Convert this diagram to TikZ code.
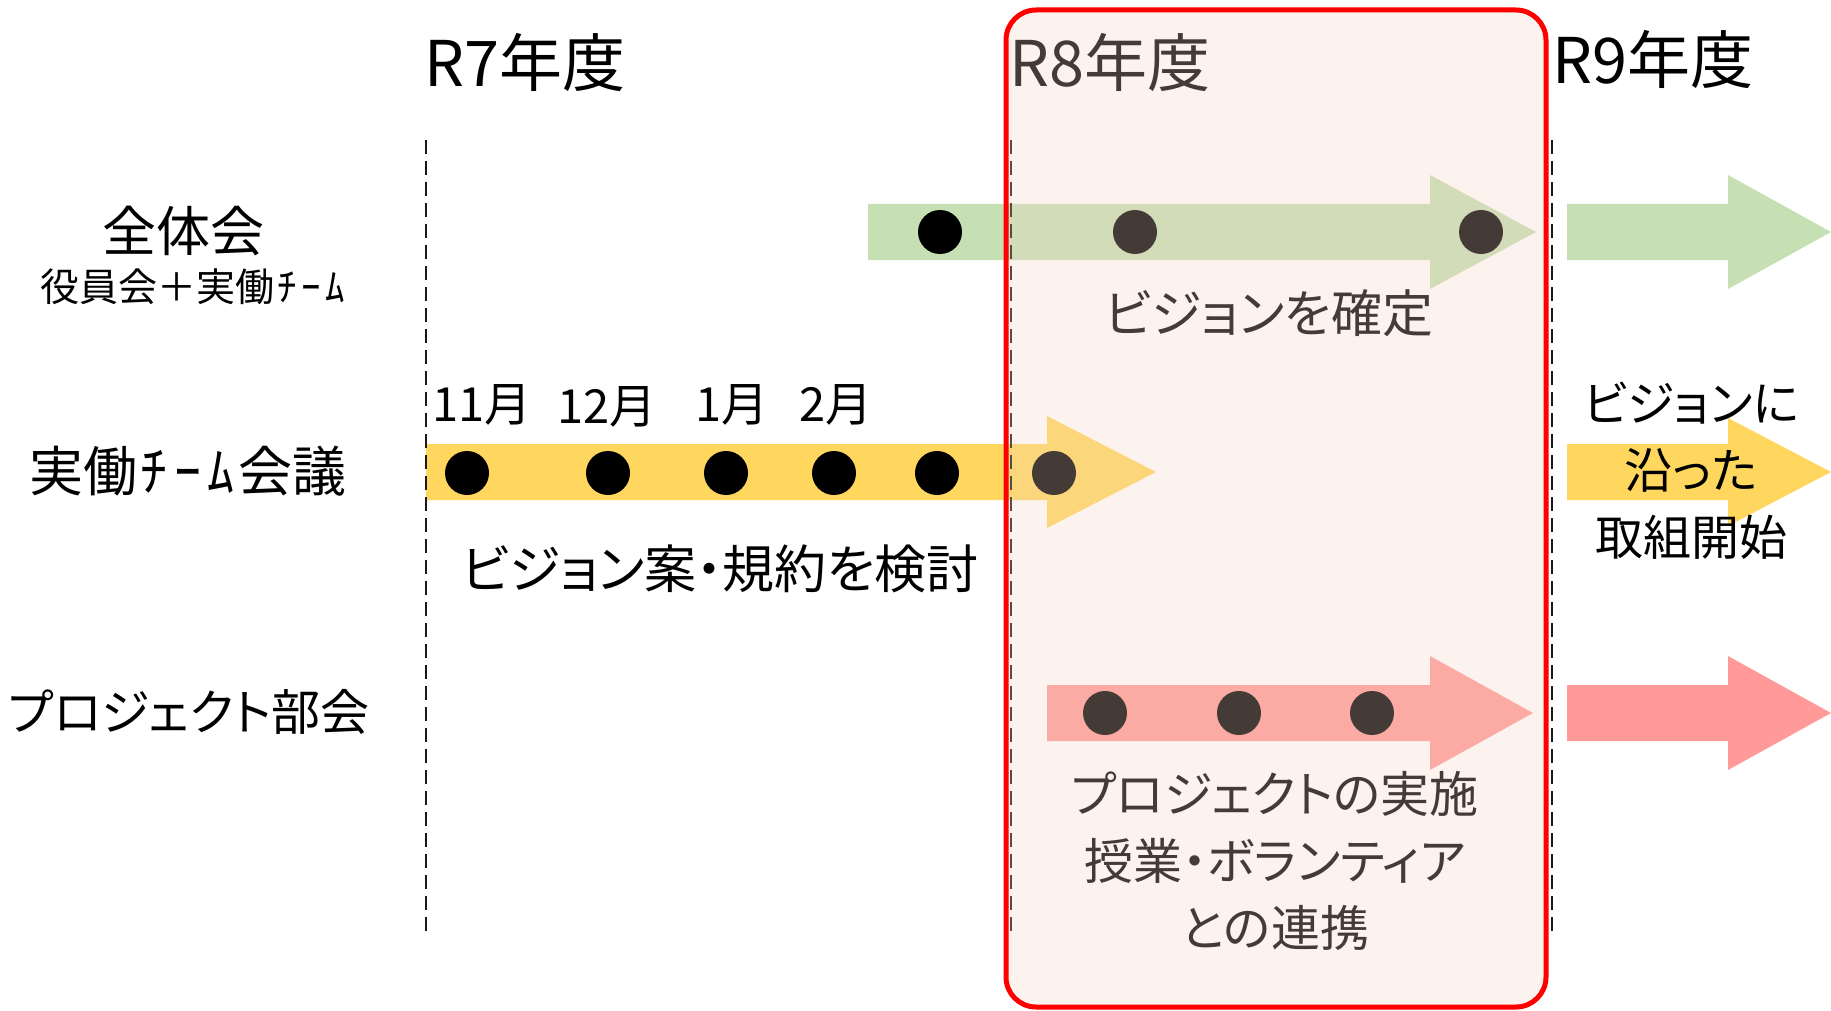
\documentclass[tikz,border=0pt]{standalone}
\usepackage{fontspec}
\setmainfont{Noto Sans CJK JP}[RawFeature=+palt]
\definecolor{grn}{HTML}{C6E0B4}
\definecolor{ylw}{HTML}{FFD75E}
\definecolor{pnk}{HTML}{FF9A98}
\definecolor{boxfill}{RGB}{245,212,198}
\newcommand\fatarrow[7]{\fill[#1] (#2,#5-#6) -- (#3,#5-#6) -- (#3,#5-#7) -- (#4,#5) -- (#3,#5+#7) -- (#3,#5+#6) -- (#2,#5+#6) -- cycle;}
\newcommand\hk[1]{\makebox[0.62em]{#1}}
\tikzset{
  txt/.style={inner sep=0pt, text=black},
  yrlbl/.style={txt, anchor=west, font=\fontsize{63}{70}\selectfont},
  rowlbl/.style={txt, font=\fontsize{54}{64}\selectfont},
  sublbl/.style={txt, font=\fontsize{39}{44}\selectfont},
  monlbl/.style={txt, font=\fontsize{47}{54}\selectfont},
  note/.style={txt, align=center, font=\fontsize{51}{67}\selectfont},
  dot/.style={circle, fill=black, minimum size=44pt, inner sep=0pt},
  yrline/.style={dash pattern=on 14pt off 7pt, line width=1.6pt, black!90},
}
\begin{document}
\begin{tikzpicture}[x=1pt,y=-1pt]
\useasboundingbox (0,0) rectangle (1831,1011);
\fill[white] (0,0) rectangle (1831,1011);
% arrows
\fatarrow{grn}{868}{1430}{1536}{232}{28}{57}
\fatarrow{grn}{1567}{1728}{1831}{232}{28}{57}
\fatarrow{ylw}{426}{1047}{1156}{472}{28}{56}
\fatarrow{ylw}{1567}{1728}{1831}{472}{28}{54}
\fatarrow{pnk}{1047}{1430}{1533}{713}{28}{57}
\fatarrow{pnk}{1567}{1728}{1831}{713}{28}{57}
% dots
\node[dot] (g1) at (940,232) {};
\node[dot] (g2) at (1135,232) {};
\node[dot] (g3) at (1481,232) {};
\node[dot] (y1) at (467,473) {};
\node[dot] (y2) at (608,473) {};
\node[dot] (y3) at (726,473) {};
\node[dot] (y4) at (834,473) {};
\node[dot] (y5) at (937,473) {};
\node[dot] (y6) at (1054,473) {};
\node[dot] (p1) at (1105,713) {};
\node[dot] (p2) at (1239,713) {};
\node[dot] (p3) at (1372,713) {};
% year lines
\coordinate (l7t) at (426,140); \coordinate (l7b) at (426,934);
\coordinate (l8t) at (1011,140); \coordinate (l8b) at (1011,934);
\coordinate (l9t) at (1552,140); \coordinate (l9b) at (1552,934);
\draw[yrline] (l7t) -- (l7b);
\draw[yrline] (l8t) -- (l8b);
\draw[yrline] (l9t) -- (l9b);
% year labels
\node[yrlbl] (yr7) at (424,62) {R7年度};
\node[yrlbl] (yr8) at (1009,62) {R8年度};
\node[yrlbl] (yr9) at (1552,59) {R9年度};
% row labels
\node[rowlbl] (lab1) at (183,231) {全体会};
\node[sublbl] (sub1) at (194,287) {役員会＋実働\hk{ﾁ}\hk{ｰ}\hk{ﾑ}};
\node[rowlbl] (lab2) at (188,471) {実働\hk{ﾁ}\hk{ｰ}\hk{ﾑ}会議};
\node[rowlbl, font=\fontsize{49}{60}\selectfont] (lab3) at (189,712) {プロジェクト部会};
% months
\node[monlbl] (m11) at (482,405) {11月};
\node[monlbl] (m12) at (607,407) {12月};
\node[monlbl] (m1) at (732,405) {1月};
\node[monlbl] (m2) at (836,405) {2月};
% notes
\node[note] (n1) at (1269,313) {ビジョンを確定};
\node[note, font=\fontsize{52}{67}\selectfont] (n2) at (720,569) {ビジョン案・規約を検討};
\node[note, font=\fontsize{48}{67}\selectfont] (n3) at (1691,471) {ビジョンに\\沿った\\取組開始};
\node[note, font=\fontsize{49}{67}\selectfont] (n4) at (1275,861) {プロジェクトの実施\\授業・ボランティア\\との連携};
% R8 highlight box
\fill[boxfill, fill opacity=0.28, rounded corners=30pt] (1006,10) rectangle (1546,1007);
\draw[red, line width=5pt, rounded corners=30pt] (1006,10) rectangle (1546,1007);
\end{tikzpicture}
\end{document}
